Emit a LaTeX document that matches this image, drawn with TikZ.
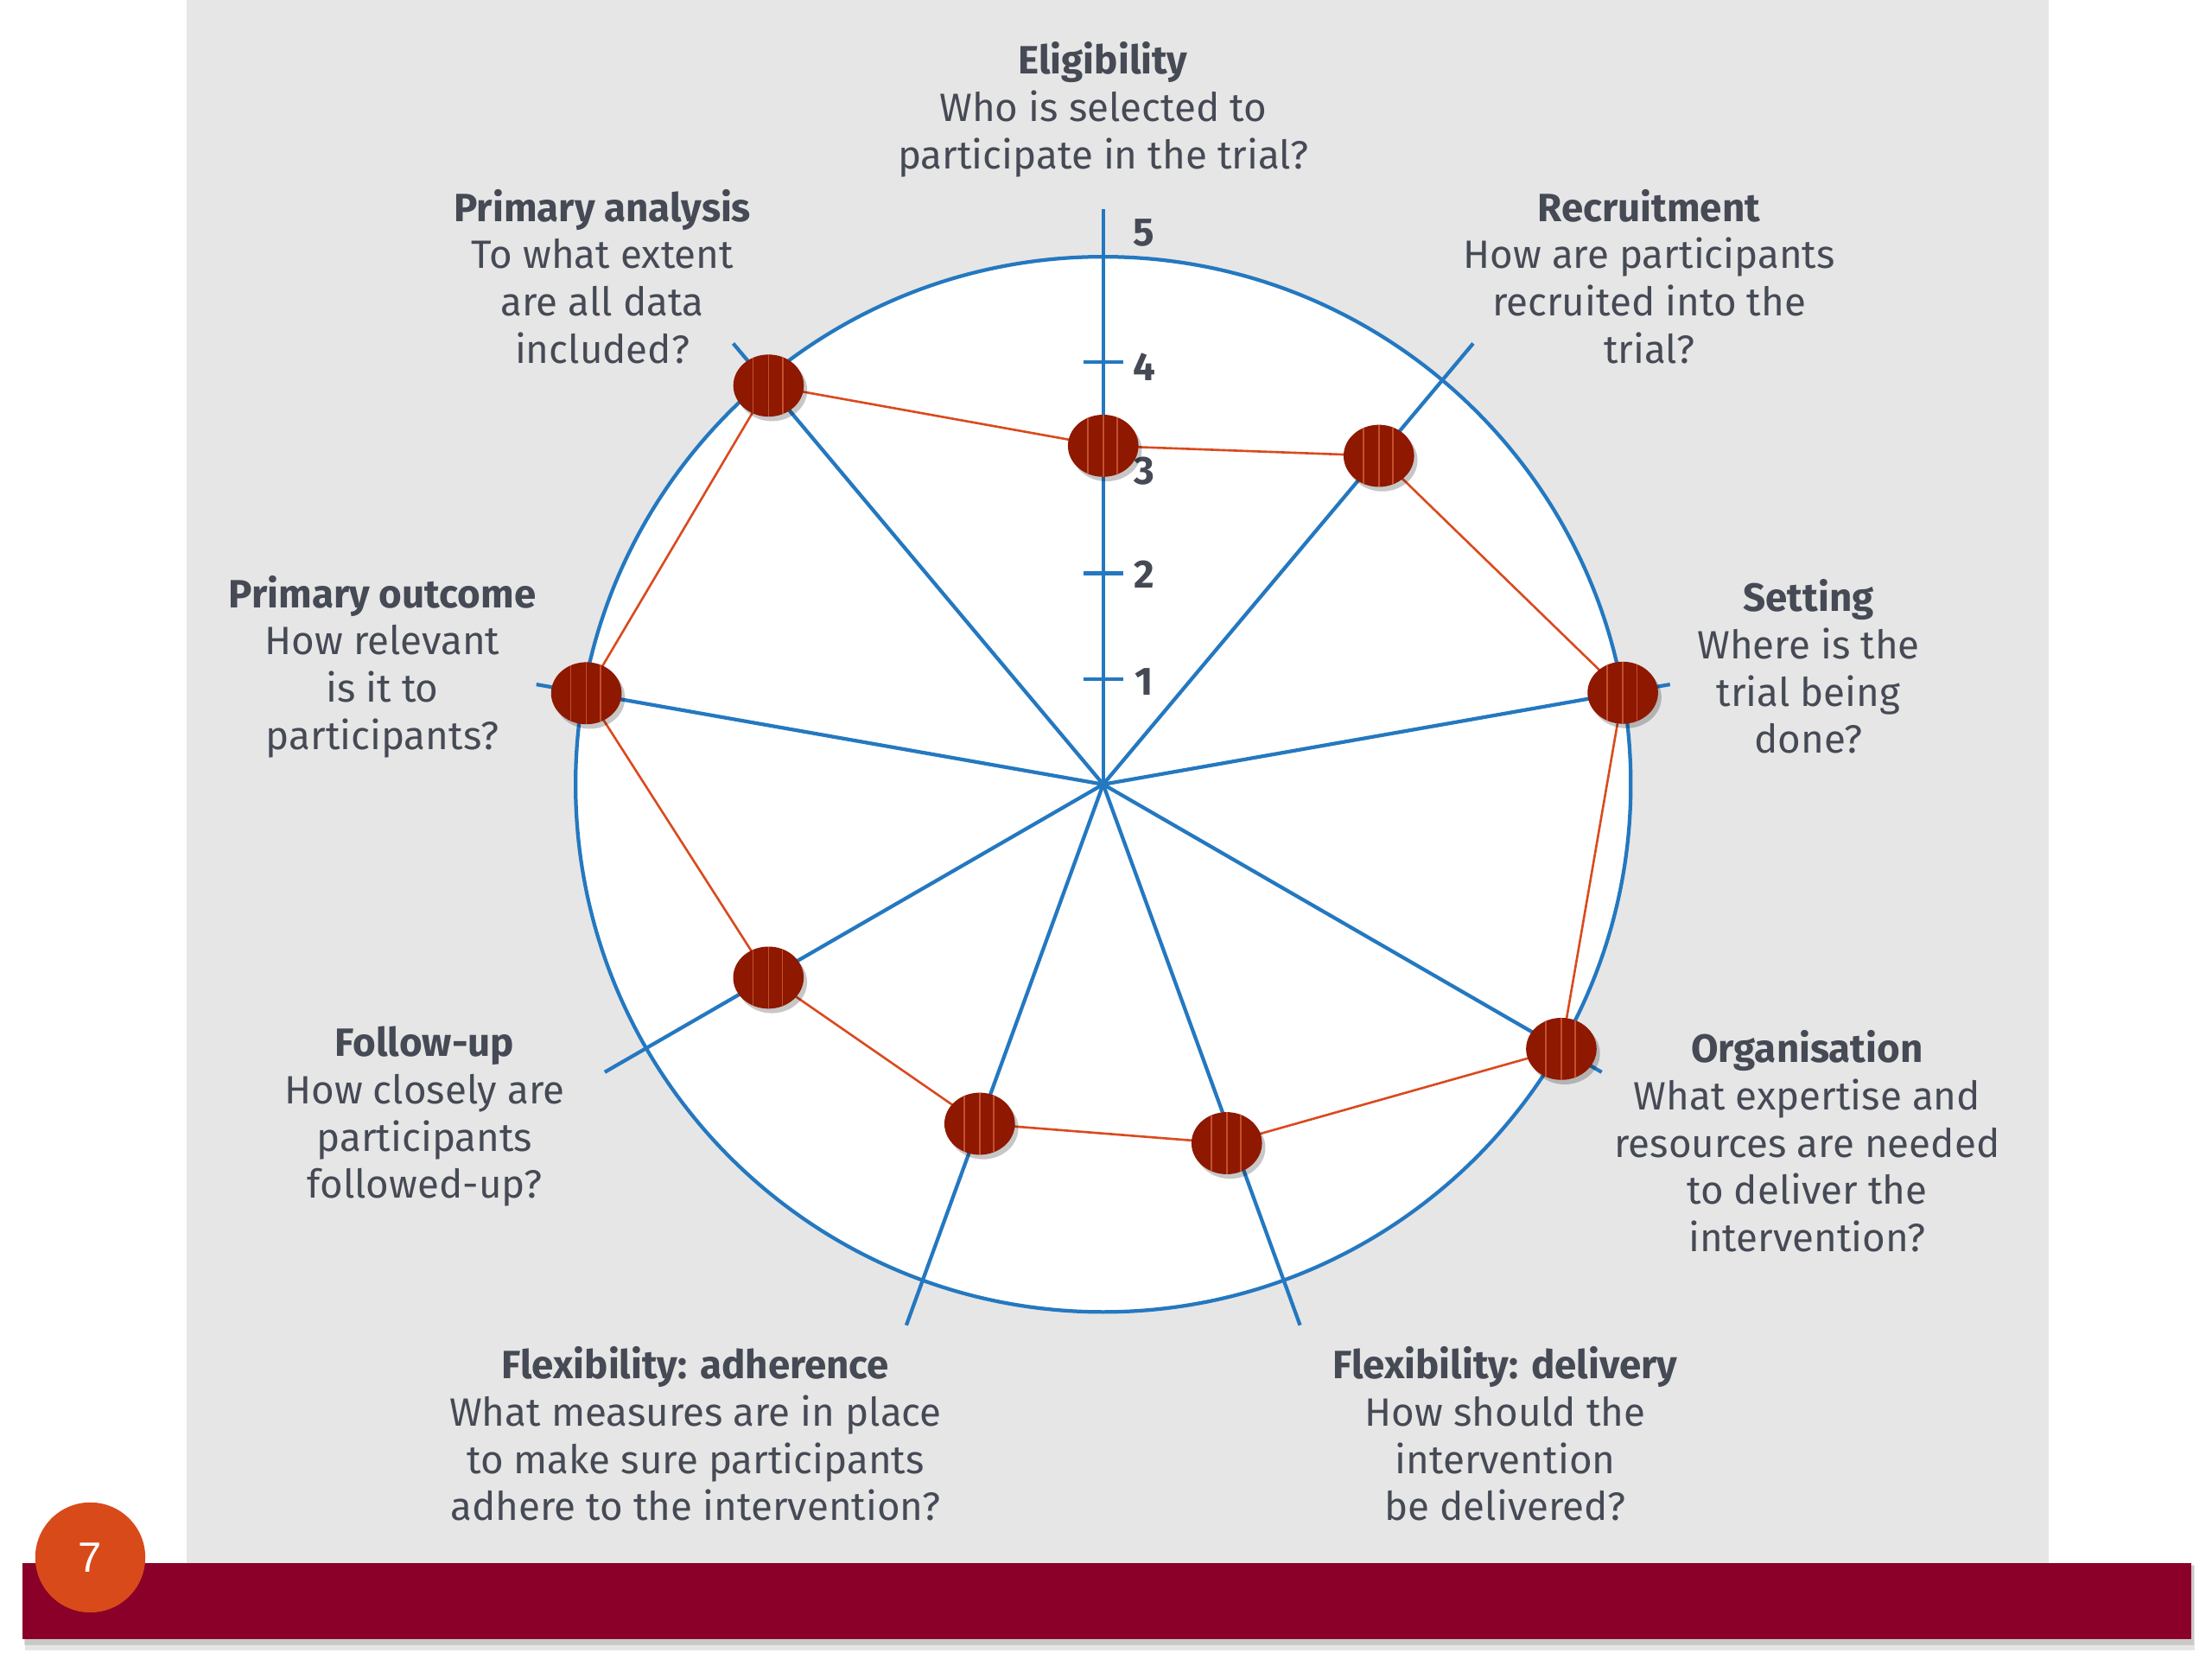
\documentclass[tikz,border=0pt]{standalone}
\usepackage{fontspec}
\setmainfont{Fira Sans}
\newfontfamily\badgefont{Liberation Sans}
\usetikzlibrary{shapes.geometric,shadows,calc}
\definecolor{panelgray}{HTML}{E6E6E6}
\definecolor{axisblue}{HTML}{2478C0}
\definecolor{dotred}{HTML}{8E1800}
\definecolor{stripered}{HTML}{C4502C}
\definecolor{linered}{HTML}{DA4A1E}
\definecolor{txt}{HTML}{454A55}
\definecolor{barred}{HTML}{8A0028}
\definecolor{badgeorange}{HTML}{D94A1A}
\pgfdeclarelayer{bg}
\pgfdeclarelayer{mid}
\pgfsetlayers{bg,mid,main}
\begin{document}
\begin{tikzpicture}[x=0.5pt,y=0.5pt,
  spoke/.style={draw=axisblue, line width=1.3pt},
  ring/.style={draw=axisblue, line width=1.3pt, fill=white},
  redline/.style={draw=linered, line width=0.8pt, line join=round},
  dotnode/.style={ellipse, minimum width=25pt, minimum height=22pt, inner sep=0pt,
    fill=dotred,
    drop shadow={shadow xshift=1.2pt, shadow yshift=-1.6pt, fill=black, opacity=0.22},
    path picture={
      \foreach \dx in {-5.5,0,5}{
        \draw[stripered, line width=0.5pt]
          ([xshift=\dx pt]path picture bounding box.north) --
          ([xshift=\dx pt]path picture bounding box.south);
      }
    }},
  lab/.style={align=center, text=txt, inner sep=0pt,
    font=\fontsize{14}{16.75}\selectfont},
  num/.style={text=txt, inner sep=0pt, font=\bfseries\fontsize{14}{16}\selectfont},
]
\useasboundingbox (0,0) rectangle (1568,-1176);
\begin{pgfonlayer}{bg}
  \fill[white] (0,0) rectangle (1568,-1176);
  \fill[panelgray] (132,0) rectangle (1452,-1108);
  \coordinate (O) at (782,-556);
  \draw[ring] (O) circle[radius=374];
  \foreach \a/\n in {90/1,50/2,10/3,-30/4,-70/5,-110/6,-150/7,170/8,130/9}
    \coordinate (e\n) at ($(O)+(\a:408)$);
  \foreach \n in {1,...,9}
    \draw[spoke] (O) -- (e\n);
  \foreach \k in {1,...,4}
    \draw[spoke] ($(O)+(-14,74.8*\k)$) -- ($(O)+(14,74.8*\k)$);
  % bottom bar with shadow
  \fill[black, opacity=0.10] (18,-1110) rectangle (1556,-1170);
  \fill[black, opacity=0.12] (17,-1109) rectangle (1555,-1166);
  \fill[barred] (16,-1108) rectangle (1553,-1162);
\end{pgfonlayer}

% data points
\node[dotnode] (d1) at ($(O)+(90:240)$) {};
\node[dotnode] (d2) at ($(O)+(50:304)$) {};
\node[dotnode] (d3) at ($(O)+(10:374)$) {};
\node[dotnode] (d4) at ($(O)+(-30:375)$) {};
\node[dotnode] (d5) at ($(O)+(-71:269)$) {};
\node[dotnode] (d6) at ($(O)+(-110:256)$) {};
\node[dotnode] (d7) at ($(O)+(-150:274)$) {};
\node[dotnode] (d8) at ($(O)+(170:372)$) {};
\node[dotnode] (d9) at ($(O)+(130:369)$) {};

\begin{pgfonlayer}{mid}
  \draw[redline] (d1.center) -- (d2.center) -- (d3.center) -- (d4.center) --
    (d5.center) -- (d6.center) -- (d7.center) -- (d8.center) -- (d9.center) -- cycle;
  % scale numbers
  \node[num] (n5) at (811,-165) {5};
  \node[num] (n4) at (811,-260) {4};
  \node[num] (n3) at (811,-334) {3};
  \node[num] (n2) at (811,-407) {2};
  \node[num] (n1) at (811,-483) {1};
\end{pgfonlayer}

% labels
\node[lab] (l1) at (782,-77.7) {\textbf{Eligibility}\\Who is selected to\\participate in the trial?};
\node[lab] (l2) at (1169,-196) {\textbf{Recruitment}\\How are participants\\recruited into the\\trial?};
\node[lab] (l3) at (1282,-472.5) {\textbf{Setting}\\Where is the\\trial being\\done?};
\node[lab] (l4) at (1281,-809) {\textbf{Organisation}\\What expertise and\\resources are needed\\to deliver the\\intervention?};
\node[lab] (l5) at (1067,-1016.5) {\textbf{Flexibility: delivery}\\How should the\\intervention\\be delivered?};
\node[lab] (l6) at (493,-1016.5) {\textbf{Flexibility: adherence}\\What measures are in place\\to make sure participants\\adhere to the intervention?};
\node[lab] (l7) at (301,-791.5) {\textbf{Follow-up}\\How closely are\\participants\\followed-up?};
\node[lab] (l8) at (271,-472.5) {\textbf{Primary outcome}\\How relevant\\is it to\\participants?};
\node[lab] (l9) at (427,-196) {\textbf{Primary analysis}\\To what extent\\are all data\\included?};

% page badge
\node[circle, fill=badgeorange, minimum size=39pt, inner sep=0pt, text=white,
  font=\badgefont\fontsize{15}{18}\selectfont] (badge) at (64,-1104) {7};
\end{tikzpicture}
\end{document}
